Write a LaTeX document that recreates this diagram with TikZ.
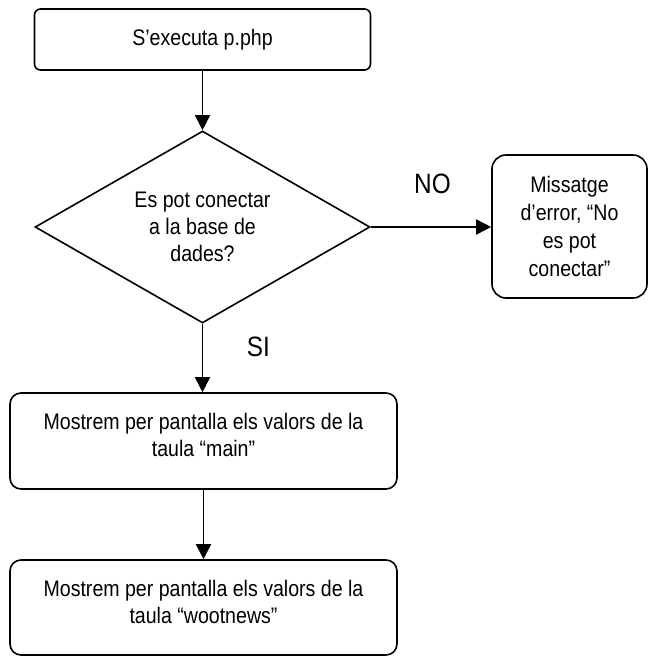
\documentclass[tikz,border=0pt]{standalone}
\usepackage{fontspec}
\setmainfont{Liberation Sans}[FakeStretch=0.87]
\usetikzlibrary{shapes.geometric,arrows.meta}
\begin{document}
\begin{tikzpicture}[x=1pt,y=-1pt,
  line width=1.6pt,
  txt/.style={font=\fontsize{22.5}{27}\selectfont},
  answer/.style={font=\fontsize{28}{30}\selectfont, inner sep=0pt},
  flow/.style={-{Triangle[length=15pt,width=15pt]}},
  procbox/.style={draw, rounded corners=#1, inner sep=0pt, align=center, txt},
  decision/.style={draw, diamond, aspect=1.75, inner sep=0pt, align=center,
    font=\fontsize{22.5}{27}\selectfont}]
\useasboundingbox (0,0) rectangle (648,657);

% start of the script
\node[procbox=6pt, minimum width=336pt, minimum height=61pt] (start) at (202.5,39.5)
  {S’executa p.php};

% database connection test
\node[decision, minimum width=335pt, minimum height=192pt] (q) at (202.5,227)
  {Es pot conectar\\a la base de\\dades?};

% error branch
\node[procbox=14pt, minimum width=155pt, minimum height=143pt,
  font=\fontsize{22.5}{28}\selectfont] (err) at (569.5,226.5)
  {Missatge\\d’error, “No\\es pot\\conectar”};

% table listings, text set from the top of each box
\node[procbox=11pt, minimum width=387pt, minimum height=96pt] (main) at (203.5,441)
  {\parbox[c][96pt][t]{380pt}{\centering\vspace*{20pt}%
    Mostrem per pantalla els valors de la\\taula “main”}};
\node[procbox=11pt, minimum width=387pt, minimum height=95pt] (news) at (203.5,607.5)
  {\parbox[c][95pt][t]{380pt}{\centering\vspace*{20pt}%
    Mostrem per pantalla els valors de la\\taula “wootnews”}};

% branch labels
\node[answer] (no) at (432.5,184) {NO};
\node[answer] (si) at (258.5,347) {SI};

% connectors
\draw[flow] (start) -- (q);
\draw[flow] (q.east) -- (err.west |- q.east);
\draw[flow] (q.south) -- (q.south |- main.north);
\draw[flow] (main) -- (news);
\end{tikzpicture}
\end{document}
